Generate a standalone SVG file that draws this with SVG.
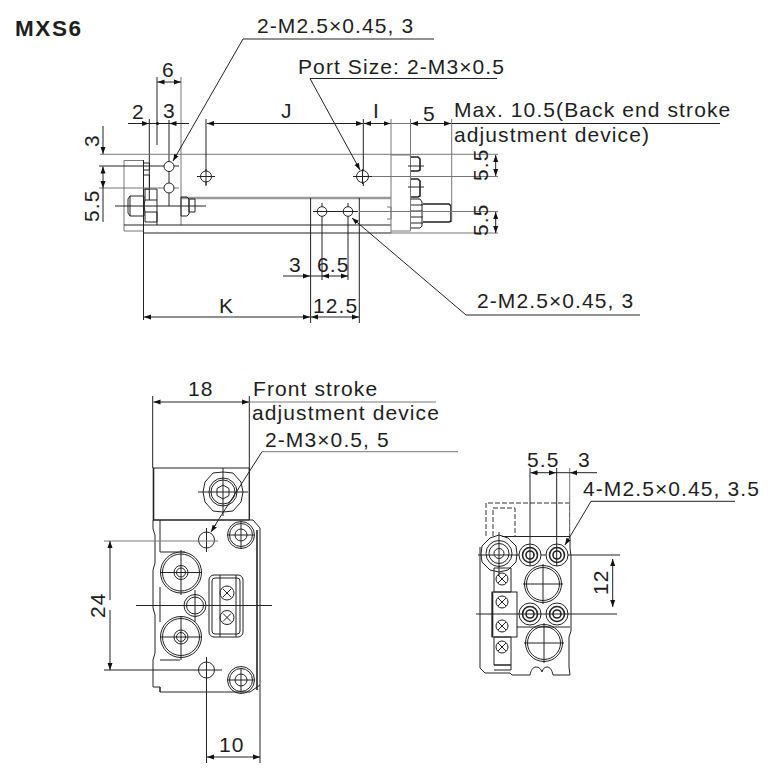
<svg xmlns="http://www.w3.org/2000/svg" width="782" height="781" viewBox="0 0 782 781">
<style>
text{font-family:"Liberation Sans",Arial,sans-serif;font-size:21px;fill:#1e1e1e;letter-spacing:1.1px}
.t{font-weight:bold;font-size:22.500px;letter-spacing:1.600px}
.l{fill:none;stroke:#222;stroke-width:1}
.g{fill:none;stroke:#777;stroke-width:1}
.h{fill:none;stroke:#222;stroke-width:1.600}
.d{fill:none;stroke:#333;stroke-width:1;stroke-dasharray:5 2}
.a{fill:none;stroke:#222;stroke-width:1;marker-end:url(#ar)}
.f{fill:#fff;stroke:#222;stroke-width:1}
</style>
<defs>
<marker id="ar" markerUnits="userSpaceOnUse" markerWidth="8" markerHeight="6" refX="7" refY="3" orient="auto"><path d="M0 0.500L7 3L0 5.500z" fill="#111"/></marker>
</defs>
<rect width="782" height="781" fill="#fff"/>
<text class="t" x="15" y="36">MXS6</text>
<g id="top-view">
<path d="M181 198H391" stroke="#999" stroke-width="2.500" fill="none"/>
<path class="g" d="M124 160.500H143.500V231H124zM181 77V225"/>
<path class="l" d="M143.500 160V320M124 225H391M143.500 233H391M310.600 198V323M359.300 198V323"/>
<path class="l" d="M143.500 163h6v7h-6M143.500 175h6v14h-6"/>
<path class="l" d="M130 196h14v20h-14zM130 196l-2 3v14l2 3M145 189h12v11h-12zM145 200l-1 6l1 6v10h12v-10M145 212h12M157 200v25M181 197h6l2 2v15l-2 2h-6zM189 199h6v13h-6z"/>
<path class="l" d="M115 206H206"/>
<path class="g" d="M391 119V233M391 155H410.500V231H391M387 207h4v12h-4M410.500 119V231"/>
<path class="h" d="M411 157h7l2 2v11l-2 1h-7M411 179h7l2 2v15l-2 1h-7"/>
<path class="l" d="M411 199h9l2 3v24l-2 2h-9M411 205h12M411 211h12M411 217h12M411 223h12"/>
<path class="h" d="M423 204h26l2 2v15l-2 1h-26"/>
<path class="l" d="M408 166H424M408 187H424M385 211.500H456"/>
<path class="g" d="M451.700 119V222"/>
<path class="l" d="M157 77V145M149.300 119V200M169 120V206"/>
<path class="g" d="M100 154.300H498M99 188H179M363 176.500H498M359 211.500H498M391 233H498"/>
<path class="l" d="M99 166H179M206 119V186M363.300 119V186M322 203V280M348 203V280"/>
<circle class="f" cx="169" cy="166.500" r="5"/><circle class="f" cx="169" cy="188" r="5"/>
<circle class="f" cx="206" cy="176.500" r="5.500"/><circle class="f" cx="362.500" cy="176.500" r="6"/>
<path class="l" d="M197 176.500H215M353 176.500H372M206 169V185M362.500 169V184"/>
<circle class="f" cx="322" cy="211.500" r="4.800"/><circle class="f" cx="348" cy="211.500" r="4.800"/>
<path class="l" d="M313 211.500H358"/>
</g>
<g id="top-dims">
<path class="a" d="M128 123.500H149"/><path class="a" d="M189 123.500H169.500"/><path class="l" d="M149 123.500H170"/>
<circle cx="157.500" cy="123.500" r="1.500" fill="#111"/>
<path class="a" d="M169 82H157.500"/><path class="a" d="M169 82H181"/>
<path class="a" d="M285 123.500H207"/><path class="a" d="M285 123.500H363"/>
<path class="a" d="M376 123.500H364"/><path class="a" d="M376 123.500H390.500"/>
<path class="a" d="M430 123.500H411"/><path class="a" d="M430 123.500H451"/>
<path class="g" d="M391 123.500H410"/>
<path class="l" d="M451.700 123.500H720"/>
<path class="a" d="M103 126V154"/><path class="a" d="M103 177V166.500"/><path class="a" d="M103 177V188"/><path class="l" d="M103 188V222"/>
<path class="a" d="M495.700 165V155"/><path class="a" d="M495.700 165V176"/><path class="a" d="M495.700 222V212"/><path class="a" d="M495.700 222V233"/>
<path class="a" d="M283 276H310"/><path class="a" d="M335 276H322"/><path class="a" d="M335 276H348"/><path class="l" d="M310.600 276H322"/>
<path class="a" d="M225 317H144"/><path class="a" d="M225 317H310"/><path class="a" d="M335 317H311"/><path class="a" d="M335 317H359"/>
<path class="l" d="M243 39H434"/><path class="a" d="M243 39L173 161"/>
<path class="l" d="M310 78.500H497"/><path class="a" d="M310 78.500L360 170"/>
<path class="l" d="M640 315H466"/><path class="a" d="M466 315L352 218"/>
<text x="257" y="33">2-M2.5×0.45, 3</text>
<text x="298" y="74">Port Size: 2-M3×0.5</text>
<text x="162" y="77">6</text><text x="132" y="119">2</text><text x="163" y="118">3</text>
<text x="281" y="118">J</text><text x="373" y="118">I</text><text x="423" y="121">5</text>
<text x="454" y="117">Max. 10.5(Back end stroke</text>
<text x="454" y="142">adjustment device)</text>
<text transform="translate(98.500 147) rotate(-90)">3</text>
<text transform="translate(98.500 222) rotate(-90)">5.5</text>
<text transform="translate(488 181) rotate(-90)">5.5</text>
<text transform="translate(488 236) rotate(-90)">5.5</text>
<text x="289" y="272">3</text><text x="317" y="272">6.5</text>
<text x="219" y="313">K</text><text x="313" y="313">12.5</text>
<text x="477" y="308">2-M2.5×0.45, 3</text>
</g>
<g id="front-view">
<path class="l" d="M152.700 396V468M249.300 396V520M153 468H249.300V520H153"/>
<path class="h" d="M153.500 468V520"/>
<path class="l" d="M223 472l10 1l8 9l2 10l-2 10l-8 9l-10 1l-10-1l-8-9l-2-10l2-10l8-9z"/>
<circle class="l" cx="223" cy="492" r="14"/><circle class="l" cx="223" cy="492" r="12"/>
<path class="l" d="M223 485l6 3.500v7l-6 3.500l-6-3.500v-7z"/>
<path class="l" d="M198 492H248M223 468V516"/>
<path class="l" d="M153 520h100l7 8V685l-10 7H160V687H153V660l2-7V615l-2-7V570l2-7V535l-2-6zM160 520V552M160 552H185M160 587V622M160 660H180M160 687V692"/>
<path class="h" d="M257 530V690"/>
<circle class="f" cx="206.500" cy="540" r="8"/><circle class="f" cx="206.500" cy="670" r="8"/>
<circle class="l" cx="241" cy="535" r="13.500"/><circle class="l" cx="241" cy="535" r="11.500"/><circle class="l" cx="241" cy="535" r="6"/>
<circle class="l" cx="241" cy="680" r="13.500"/><circle class="l" cx="241" cy="680" r="11.500"/><circle class="l" cx="241" cy="680" r="6"/>
<circle class="f" cx="181" cy="572.500" r="20.500"/><circle class="f" cx="181" cy="637" r="20.500"/>
<circle class="l" cx="181" cy="572.500" r="18.500"/><circle class="l" cx="181" cy="637" r="18.500"/>
<circle class="l" cx="181" cy="572.500" r="7"/><circle class="l" cx="181" cy="637" r="7"/>
<circle class="l" cx="181" cy="572.500" r="4.500"/><circle class="l" cx="181" cy="637" r="4.500"/>
<circle class="f" cx="195" cy="605.500" r="11"/><circle class="l" cx="195" cy="605.500" r="8.500"/>
<rect class="l" x="209" y="575" width="34" height="62" rx="5"/>
<rect class="l" x="212" y="578" width="28" height="56" rx="3"/><path class="l" d="M220 575V637M236 575V637"/>
<circle class="l" cx="227" cy="593" r="7"/><circle class="l" cx="227" cy="617.500" r="7"/>
<path class="l" d="M223 589l8 8M231 589l-8 8M223 613.500l8 8M231 613.500l-8 8"/>
<path class="l" d="M136 605.500H272M195 590V622M160 572.500H202M181 550V595M160 637H202M181 617V660M241 522V548M228 535H254M241 668V692M228 680H254"/>
<path class="l" d="M206.500 657V763M260 685V763M206.500 528V552"/>
<path class="g" d="M104 541H218"/><path class="l" d="M104 670H222"/>
</g>
<g id="front-dims">
<path class="a" d="M200 402H153.500"/><path class="a" d="M200 402H249"/>
<path class="g" d="M249 402H436M262 451.700H458"/>
<path class="l" d="M262 451.700L228 505Q218 520 213 529"/><path class="a" d="M216 524L211 532"/>
<path class="a" d="M110 600V541"/><path class="a" d="M110 610V670"/>
<path class="a" d="M231 757H207"/><path class="a" d="M231 757H260"/>
<text x="188" y="396">18</text>
<text x="253" y="396">Front stroke</text>
<text x="252" y="420">adjustment device</text>
<text x="265" y="447">2-M3×0.5, 5</text>
<text transform="translate(105 618) rotate(-90)">24</text>
<text x="219" y="752">10</text>
</g>
<g id="side-view">
<path class="d" d="M486 536V503H569.500V536M493 536V508H515V536"/>
<path class="l" d="M502 536.500H570V548l1 8v75l-2 6v30l1 8H553c-1-5-3-8-6-8s-4 2-5 5c-1-3-3-5-6-5s-5 3-6 8H512l-2-2H485l-5-5V547M517 627H570"/>
<path class="l" d="M499 535l9 3l8 8l1 8l-1 8l-8 8l-9 2l-9-2l-8-8l-1-8l1-8l8-8z"/>
<circle class="l" cx="499" cy="553.500" r="13"/><circle class="l" cx="499" cy="553.500" r="10"/><circle class="l" cx="499" cy="553.500" r="5"/>
<path class="l" d="M478 555H620M499 532V576"/>
<g id="holes">
<circle class="f" cx="530" cy="555" r="11"/><circle class="h" cx="530" cy="555" r="7.500"/><circle class="h" cx="530" cy="555" r="4"/>
<circle class="f" cx="557" cy="555" r="11"/><circle class="h" cx="557" cy="555" r="7.500"/><circle class="h" cx="557" cy="555" r="4"/>
<circle class="f" cx="530" cy="614" r="11"/><circle class="h" cx="530" cy="614" r="7.500"/><circle class="h" cx="530" cy="614" r="4"/>
<circle class="f" cx="557" cy="614" r="11"/><circle class="h" cx="557" cy="614" r="7.500"/><circle class="h" cx="557" cy="614" r="4"/>
</g>
<circle class="l" cx="543" cy="584" r="18.500"/><circle class="l" cx="543" cy="584" r="16.500"/>
<circle class="l" cx="544" cy="643" r="18.500"/><circle class="l" cx="544" cy="643" r="16.500"/>
<path class="l" d="M543 564V604M523 584H563M544 623V663M524 643H564"/>
<path class="l" d="M494 568H511V592H494zM494 637H511V665H494zM494 665H511V670H494"/>
<rect class="l" x="492" y="592" width="25" height="45"/>
<path class="h" d="M492.500 592V637"/>
<circle class="l" cx="502" cy="579" r="6"/><circle class="l" cx="502" cy="602" r="6"/><circle class="l" cx="502" cy="626" r="6"/><circle class="l" cx="502" cy="647" r="6"/>
<path class="l" d="M498 575l8 8M506 575l-8 8M498 598l8 8M506 598l-8 8M498 622l8 8M506 622l-8 8M498 643l8 8M506 643l-8 8"/>
<path class="l" d="M476 614H617M530 468V566M556.700 468V566"/>
<path class="g" d="M569.700 468V536"/>
</g>
<g id="side-dims">
<path class="a" d="M543 472.700H530.500"/><path class="a" d="M543 472.700H556"/><path class="a" d="M597 472.700H570"/><path class="l" d="M556 472.700H570"/>
<path class="a" d="M612.700 585V559"/><path class="a" d="M612.700 585V607"/>
<path class="l" d="M591 501.300H735"/><path class="a" d="M591 501.300L565 545"/>
<text x="527" y="466.500">5.5</text><text x="578" y="466.500">3</text>
<text x="583" y="495.500">4-M2.5×0.45, 3.5</text>
<text transform="translate(608 595) rotate(-90)">12</text>
</g>
</svg>
